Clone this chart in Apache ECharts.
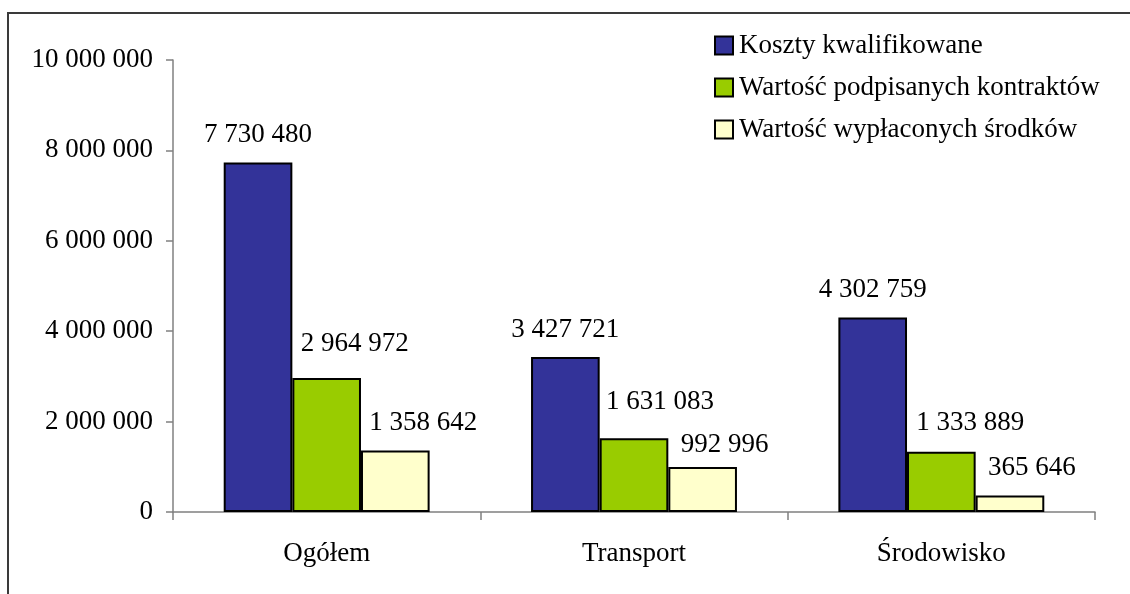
<!DOCTYPE html>
<html>
<head>
<meta charset="utf-8">
<script src="https://cdn.jsdelivr.net/npm/echarts@6/dist/echarts.min.js"></script>
<style>
html,body{margin:0;padding:0;background:#fff;}
#c{width:1130px;height:594px;}
</style>
</head>
<body>
<div id="c"></div>
<script>
const categories = ['Ogółem', 'Transport', 'Środowisko'];
const seriesNames = ['Koszty kwalifikowane', 'Wartość podpisanych kontraktów', 'Wartość wypłaconych środków'];
const kosztyKwalifikowane = [7730480, 3427721, 4302759];
const wartoscKontraktow = [2964972, 1631083, 1333889];
const wartoscWyplaconych = [1358642, 992996, 365646];
const yTicks = [0, 2000000, 4000000, 6000000, 8000000, 10000000];

// label placement tweaks (style only)
const labelOffsets = [
  [[0, 0], [0, 0], [0, 0]],
  [[28, -7], [26, -9], [29, -1]],
  [[28, 0], [22, 5], [22, 0]]
];
const colors = ['#333399', '#99CC00', '#FFFFCC'];
const FONT = '"Liberation Serif", "Times New Roman", serif';
const FS = 27;

function fmt(v) {
  return String(v).replace(/\B(?=(\d{3})+(?!\d))/g, ' ');
}

const allData = [kosztyKwalifikowane, wartoscKontraktow, wartoscWyplaconych];

const series = allData.map((arr, si) => ({
  name: seriesNames[si],
  type: 'bar',
  barGap: '0%',
  barCategoryGap: '33%',
  itemStyle: { color: colors[si], borderColor: '#000', borderWidth: 2 },
  label: {
    show: true,
    position: 'top',
    distance: 14,
    fontFamily: FONT,
    fontSize: FS,
    color: '#000',
    formatter: p => fmt(p.value)
  },
  data: arr.map((v, i) => ({ value: v, label: { offset: labelOffsets[si][i] } }))
}));

const chart = echarts.init(document.getElementById('c'), null, { renderer: 'canvas' });
chart.setOption({
  animation: false,
  backgroundColor: '#fff',
  graphic: [{
    type: 'rect',
    shape: { x: 8, y: 13, width: 1300, height: 800 },
    style: { fill: 'none', stroke: '#3a3a3a', lineWidth: 2 },
    silent: true,
    z: -1
  }],
  legend: {
    orient: 'vertical',
    left: 709,
    top: 27,
    itemWidth: 18,
    itemHeight: 18,
    itemGap: 15,
    icon: 'rect',
    itemStyle: { borderColor: '#000', borderWidth: 2 },
    textStyle: { fontFamily: FONT, fontSize: FS, color: '#000', padding: [0, 0, 0, 1] },
    data: seriesNames
  },
  grid: { left: 173, right: 35, top: 60, bottom: 82, containLabel: false },
  xAxis: {
    type: 'category',
    data: categories,
    axisLine: { lineStyle: { color: '#808080', width: 1.5 } },
    axisTick: { show: true, length: 8, lineStyle: { color: '#808080', width: 1.5 } },
    axisLabel: { fontFamily: FONT, fontSize: FS, color: '#000', margin: 28 }
  },
  yAxis: {
    type: 'value',
    min: yTicks[0],
    max: yTicks[yTicks.length - 1],
    interval: yTicks[1] - yTicks[0],
    axisLine: { show: true, lineStyle: { color: '#808080', width: 1.5 } },
    axisTick: { show: true, length: 7, lineStyle: { color: '#808080', width: 1.5 } },
    splitLine: { show: false },
    axisLabel: { fontFamily: FONT, fontSize: FS, color: '#000', margin: 20, formatter: v => fmt(v) }
  },
  series: series
});
</script>
</body>
</html>
